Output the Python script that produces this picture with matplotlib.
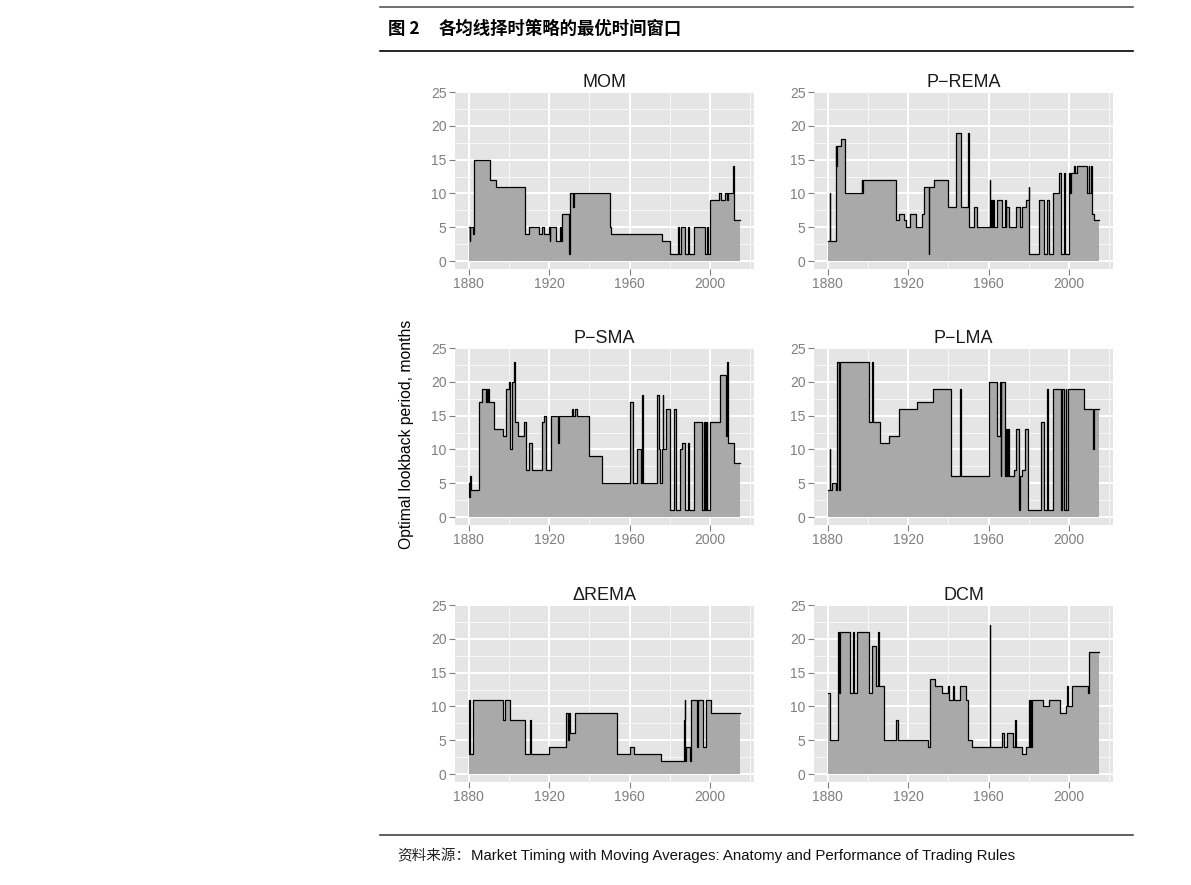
import numpy as np
import matplotlib
matplotlib.use("Agg")
import matplotlib.pyplot as plt
from matplotlib.lines import Line2D

plt.rcParams['font.family'] = ['Liberation Sans', 'DejaVu Sans']

# ---- data: step breakpoints (year, optimal lookback in months) ----
mom_years = [1880, 1880.5, 1880.8, 1882, 1882.8, 1890.4, 1893.7, 1908.1, 1910, 1914.8, 1916.3,
             1917.7, 1919.7, 1920.3, 1920.6, 1923.5, 1925.5, 1925.8, 1926.5, 1930.0, 1930.4,
             1931.8, 1932.2, 1950, 1950.9, 1976.2, 1979.8, 1984.1, 1984.5, 1985.3, 1987.3,
             1988.8, 1989.5, 1991.8, 1997.3, 1998.2, 1998.9, 2000, 2004.2, 2005.3, 2007.5,
             2008.5, 2008.8, 2011.3, 2011.6, 2012, 2015]
mom_vals = [5, 3, 5, 4, 15, 12, 11, 4, 5, 4, 5,
            4, 5, 3, 5, 3, 5, 3, 7, 1, 10,
            8, 10, 5, 4, 3, 1, 5, 1, 5, 1,
            5, 1, 5, 1, 5, 1, 9, 10, 9, 10,
            9, 10, 14, 10, 6, 6]

prema_years = [1880, 1881.1, 1881.3, 1884, 1884.4, 1884.7, 1886.5, 1888.4, 1896.9, 1897.3, 1897.6,
               1914, 1915.3, 1918, 1919, 1921, 1923.7, 1927, 1927.8, 1930.2, 1930.5, 1932.8,
               1940, 1943.7, 1946.1, 1949.9, 1950.3, 1952.7, 1954, 1960.5, 1960.8, 1961.2,
               1961.6, 1962, 1962.5, 1964, 1966.8, 1968, 1968.4, 1968.8, 1970.2, 1973.5,
               1975.5, 1976.7, 1978.5, 1979.8, 1980.2, 1985.1, 1987.4, 1989, 1990, 1992,
               1994.7, 1996, 1997.4, 1998, 2000, 2000.6, 2001, 2002.3, 2003, 2004, 2008.6,
               2009.6, 2010, 2010.8, 2011.3, 2012.2, 2015]
prema_vals = [3, 10, 3, 17, 14, 17, 18, 10, 12, 10, 12,
              6, 7, 6, 5, 7, 5, 7, 11, 1, 11, 12,
              8, 19, 8, 19, 5, 8, 5, 12, 5, 9,
              5, 9, 5, 9, 5, 9, 5, 8, 5, 8,
              5, 8, 9, 11, 1, 9, 1, 9, 1, 10,
              13, 1, 13, 1, 13, 10, 13, 14, 13, 14, 10,
              14, 10, 14, 7, 6, 6]

psma_years = [1880, 1880.4, 1880.8, 1881.3, 1885.1, 1886.5, 1888.5, 1888.9, 1889.3, 1889.7, 1890,
              1892.4, 1897, 1898.4, 1900, 1900.5, 1900.8, 1901.8, 1902.6, 1902.9, 1904.3,
              1907.3, 1908.3, 1910, 1911.3, 1916.4, 1917.4, 1918.4, 1921, 1924.5, 1924.8,
              1931.3, 1932, 1932.8, 1933.8, 1940, 1946.2, 1960.3, 1961.6, 1963.6, 1965.6,
              1966.2, 1966.5, 1973.5, 1974.7, 1975.2, 1976, 1976.5, 1976.8, 1978, 1980.2,
              1982.2, 1983, 1985.1, 1986.2, 1987.3, 1988.8, 1989.5, 1991.8, 1996, 1996.8,
              1997, 1997.5, 1997.7, 1998.3, 1998.5, 2000, 2004.7, 2007.6, 2008.3, 2008.7,
              2009, 2011.6, 2015]
psma_vals = [5, 3, 6, 4, 17, 19, 17, 19, 17, 19, 17,
             13, 12, 19, 20, 11, 10, 20, 23, 14, 12,
             14, 7, 11, 7, 14, 15, 7, 15, 11, 15,
             16, 15, 16, 15, 9, 5, 17, 5, 10, 5,
             18, 5, 18, 10, 5, 10, 18, 10, 16, 1,
             16, 1, 10, 11, 1, 11, 1, 14, 1, 14,
             1, 14, 1, 14, 1, 14, 21, 12, 23, 15,
             11, 8, 8]

plma_years = [1880, 1881.1, 1881.4, 1882.2, 1884, 1884.5, 1885.5, 1886.1, 1900.7, 1901.9, 1902.7,
              1906, 1910.5, 1915.4, 1915.7, 1924.2, 1932.5, 1941.1, 1946, 1946.3, 1960.1,
              1963.9, 1965.4, 1966, 1966.3, 1968.1, 1968.5, 1969, 1969.6, 1970, 1972.7,
              1973.8, 1975.3, 1975.6, 1976.8, 1978.2, 1979.5, 1986.1, 1987.4, 1989, 1989.3,
              1992, 1995.7, 1996.4, 1997.5, 1998.2, 1998.5, 1999.5, 2007.5, 2012, 2012.3, 2015]
plma_vals = [4, 10, 4, 5, 4, 23, 4, 23, 14, 23, 14,
             11, 12, 14, 16, 17, 19, 6, 19, 6, 20,
             12, 20, 6, 20, 6, 13, 6, 13, 6, 7,
             13, 1, 6, 7, 13, 1, 14, 1, 19, 1,
             19, 1, 19, 1, 19, 1, 19, 16, 10, 16, 16]

drema_years = [1880, 1880.4, 1880.6, 1880.9, 1882.3, 1897, 1898.2, 1900.4, 1908.1, 1910.4, 1910.8,
               1919.7, 1928.5, 1929.6, 1930, 1930.5, 1933, 1953.7, 1960.3, 1962, 1975.5,
               1986.8, 1987.4, 1987.7, 1988.2, 1989.8, 1990.5, 1993.4, 1994, 1996.4, 1998,
               2000.4, 2015]
drema_vals = [3, 11, 4, 3, 11, 8, 11, 8, 3, 8, 3,
              4, 9, 5, 9, 6, 9, 3, 4, 3, 2,
              8, 11, 2, 4, 2, 11, 4, 11, 4, 11,
              9, 9]

dcm_years = [1880, 1881.3, 1885, 1885.4, 1885.8, 1886.2, 1891.1, 1892.7, 1893.2, 1894.7, 1900.7,
             1902, 1904.2, 1905, 1905.4, 1908, 1913.8, 1914.8, 1929.7, 1931, 1933.3,
             1936.6, 1940, 1940.3, 1942.2, 1942.6, 1945.7, 1948.6, 1949.8, 1951.7, 1960.5,
             1960.8, 1966.4, 1967.7, 1969.2, 1972.2, 1973.3, 1973.7, 1976.5, 1978.3, 1979.8,
             1980.3, 1980.8, 1981.2, 1981.7, 1987.1, 1990, 1995.4, 1998.4, 1999, 1999.3,
             2001.4, 2009.2, 2010, 2015]
dcm_vals = [12, 5, 12, 21, 12, 21, 12, 21, 12, 21, 12,
            19, 13, 21, 13, 5, 8, 5, 4, 14, 13,
            12, 13, 11, 13, 11, 13, 11, 5, 4, 22,
            4, 6, 4, 6, 4, 8, 4, 3, 4, 11,
            4, 11, 4, 11, 10, 11, 9, 10, 13, 10,
            13, 12, 18, 18]

panel_titles = ['MOM', 'P\u2212REMA', 'P\u2212SMA', 'P\u2212LMA', '\u0394REMA', 'DCM']
panel_data = [(mom_years, mom_vals), (prema_years, prema_vals), (psma_years, psma_vals),
              (plma_years, plma_vals), (drema_years, drema_vals), (dcm_years, dcm_vals)]

W, H = 1191, 885
fig = plt.figure(figsize=(W / 100, H / 100), dpi=100)

col_left = [455, 814]
row_top = [91, 347, 604]
pw, ph = 299, 178

for i, (title, (xs, ys)) in enumerate(zip(panel_titles, panel_data)):
    r, c = divmod(i, 2)
    ax = fig.add_axes([col_left[c] / W, 1 - (row_top[r] + ph) / H, pw / W, ph / H])
    ax.set_facecolor('#E5E5E5')
    ax.fill_between(xs, ys, 0, step='post', color='#A9A9A9', lw=0)
    ax.step(xs, ys, where='post', color='black', lw=0.9)
    ax.set_xlim(1873.25, 2021.75)
    ax.set_ylim(-1.18, 25.15)
    ax.set_xticks([1880, 1920, 1960, 2000])
    ax.set_yticks([0, 5, 10, 15, 20, 25])
    ax.set_xticks([1900, 1940, 1980, 2020], minor=True)
    ax.set_yticks(np.arange(2.5, 25, 5), minor=True)
    ax.grid(which='major', color='white', lw=1.4)
    ax.grid(which='minor', color='white', lw=0.5)
    ax.set_axisbelow(True)
    for s in ax.spines.values():
        s.set_visible(False)
    ax.tick_params(which='major', length=4, width=0.8, color='#7F7F7F',
                   labelcolor='#7F7F7F', labelsize=10, pad=2)
    ax.tick_params(which='minor', length=0)
    ax.set_title(title, fontsize=13, pad=3, color='#1a1a1a')

fig.text(407 / W, 1 - 434 / H, 'Optimal lookback period, months', rotation=90,
         ha='center', va='center', fontsize=11.3)

# header and footer
fig.add_artist(Line2D([380 / W, 1133 / W], [1 - 7 / H, 1 - 7 / H], color='#555555', lw=1.2))
fig.add_artist(Line2D([380 / W, 1133 / W], [1 - 51 / H, 1 - 51 / H], color='black', lw=1.2))
fig.add_artist(Line2D([380 / W, 1133 / W], [1 - 835 / H, 1 - 835 / H], color='#444444', lw=1.2))
cjk = ['Noto Sans CJK SC', 'DejaVu Sans']
fig.text(388 / W, 1 - 29 / H, '图 2', ha='left', va='center',
         fontsize=12.5, fontweight='bold', family=cjk)
fig.text(439 / W, 1 - 29 / H, '各均线择时策略的最优时间窗口', ha='left', va='center',
         fontsize=12.5, fontweight='bold', family=cjk)
fig.text(397 / W, 1 - 856 / H, '资料来源：', ha='left', va='center', fontsize=10.5,
         family=cjk, color='#222222')
fig.text(471 / W, 1 - 856 / H, 'Market Timing with Moving Averages: Anatomy and Performance of Trading Rules',
         ha='left', va='center', fontsize=10.8, color='#111111')

fig.savefig('out.png', dpi=100)
